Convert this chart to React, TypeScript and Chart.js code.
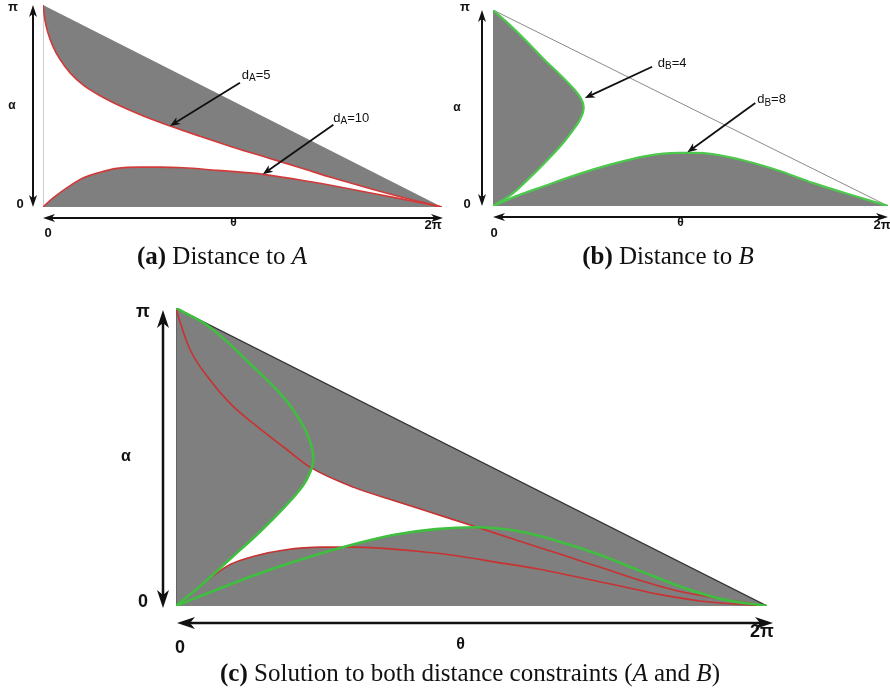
import React, { useEffect, useRef } from "react";
import { Chart, registerables } from "chart.js";

Chart.register(...registerables);

type Pt = [number, number];

// ---- axes (θ horizontal, α vertical) ----
const THETA_MAX = 6.28;
const ALPHA_MAX = 3.14;
const X_TICKS = [0, 6.28];
const X_TICK_LABELS = ["0", "2π"];
const Y_TICKS = [0, 3.14];
const Y_TICK_LABELS = ["0", "π"];
const X_TITLE = "θ";
const Y_TITLE = "α";

// triangle edges of the admissible domain
const hypotenuse: Pt[] = [[0, 3.14], [6.28, 0]];
const leftEdge: Pt[] = [[0, 0], [0, 3.14]];

// ---- (a) distance to A : [θ, α] ----
const aDistA5: Pt[] = [
  [0, 3.14], [0.03, 2.91], [0.08, 2.7], [0.16, 2.49], [0.27, 2.29], [0.43, 2.08],
  [0.63, 1.9], [0.9, 1.73], [1.26, 1.55], [1.57, 1.42], [2.0, 1.26], [2.47, 1.1],
  [2.99, 0.93], [3.52, 0.77], [4.05, 0.61], [4.57, 0.45], [5.1, 0.3], [5.62, 0.16], [6.28, 0],
];
const aDistA10: Pt[] = [
  [0, 0], [0.16, 0.14], [0.38, 0.3], [0.63, 0.45], [0.9, 0.54], [1.16, 0.6],
  [1.53, 0.62], [1.84, 0.62], [2.21, 0.61], [2.74, 0.57], [3.26, 0.53], [3.52, 0.5],
  [4.05, 0.42], [4.57, 0.33], [5.1, 0.23], [5.62, 0.13], [6.28, 0],
];

// ---- (b) distance to B ----
const bDistB4: Pt[] = [
  [0, 3.14], [0.3, 2.87], [0.56, 2.61], [0.82, 2.34], [1.09, 2.08], [1.29, 1.87],
  [1.4, 1.72], [1.44, 1.6], [1.43, 1.5], [1.38, 1.38], [1.29, 1.24], [1.09, 0.98],
  [0.82, 0.69], [0.56, 0.43], [0.3, 0.19], [0, 0],
];
const bDistB8: Pt[] = [
  [0, 0], [0.3, 0.13], [0.82, 0.32], [1.36, 0.51], [1.89, 0.67], [2.43, 0.8],
  [2.95, 0.85], [3.22, 0.85], [3.49, 0.83], [4.02, 0.72], [4.56, 0.56], [5.08, 0.37],
  [5.62, 0.2], [6.28, 0],
];

// ---- (c) both constraints ----
const cDistA5: Pt[] = [
  [0, 3.14], [0.04, 3.0], [0.15, 2.7], [0.37, 2.37], [0.58, 2.13], [0.85, 1.9],
  [1.15, 1.67], [1.43, 1.46], [1.89, 1.25], [2.32, 1.11], [2.76, 0.97], [3.2, 0.83],
  [3.63, 0.69], [4.07, 0.55], [4.5, 0.41], [4.93, 0.27], [5.37, 0.15], [6.28, 0],
];
const cDistA10: Pt[] = [
  [0, 0], [0.15, 0.12], [0.37, 0.3], [0.58, 0.44], [0.85, 0.53], [1.15, 0.59],
  [1.55, 0.62], [1.85, 0.62], [2.16, 0.61], [2.54, 0.58], [2.98, 0.53], [3.41, 0.46],
  [3.85, 0.39], [4.29, 0.3], [4.72, 0.21], [5.15, 0.12], [5.59, 0.05], [6.28, 0],
];
const cDistB4: Pt[] = [
  [0, 3.14], [0.37, 2.93], [0.8, 2.54], [1.15, 2.19], [1.35, 1.9], [1.44, 1.68],
  [1.46, 1.54], [1.43, 1.42], [1.35, 1.27], [1.15, 1.04], [0.89, 0.78], [0.58, 0.5],
  [0.28, 0.23], [0, 0],
];
const cDistB8: Pt[] = [
  [0, 0], [0.58, 0.23], [1.02, 0.39], [1.46, 0.53], [1.89, 0.65], [2.32, 0.75],
  [2.76, 0.81], [3.2, 0.83], [3.63, 0.79], [4.07, 0.68], [4.5, 0.54], [4.93, 0.37],
  [5.37, 0.2], [5.81, 0.07], [6.28, 0],
];

// ---- annotations: label anchor, arrow tail, arrow head (data coords) ----
type Note = { name: string; sub: string; value: string; label: Pt; tail: Pt; head: Pt };
const aNotes: Note[] = [
  { name: "d", sub: "A", value: "=5", label: [3.13, 2.05], tail: [3.1, 1.93], head: [2.0, 1.26] },
  { name: "d", sub: "A", value: "=10", label: [4.57, 1.38], tail: [4.57, 1.28], head: [3.46, 0.51] },
];
const bNotes: Note[] = [
  { name: "d", sub: "B", value: "=4", label: [2.62, 2.29], tail: [2.53, 2.23], head: [1.46, 1.73] },
  { name: "d", sub: "B", value: "=8", label: [4.2, 1.7], tail: [4.17, 1.65], head: [3.09, 0.86] },
];

const GRAY = "#7f7f7f";
const RED_A = "#d23a3a";
const GREEN_B = "#4cc84c";
const RED_C = "#c83232";
const GREEN_C = "#3fbf3f";
const SANS = '"Liberation Sans", Arial, sans-serif';

type ArrowStyle = { w: number; len: number; half: number };
type PanelCfg = {
  vArrowDx: number; vArrowEnds: [number, number];
  hArrowDy: number; hArrowEnds: [number, number];
  axisArrow: ArrowStyle;
  tickSize: number; titleSize: number;
  yTickDx: number[]; yTickDy: number[];
  xTickDx: number[]; xTickDy: number[];
  yTitleDx: number; xTitleDx: number; xTitleDy: number;
  noteSize: number; noteSub: number;
};

function head(ctx: CanvasRenderingContext2D, x: number, y: number, ang: number, s: ArrowStyle) {
  ctx.save();
  ctx.translate(x, y);
  ctx.rotate(ang);
  ctx.beginPath();
  ctx.moveTo(0, 0);
  ctx.lineTo(-s.len, -s.half);
  ctx.lineTo(-s.len * 0.72, 0);
  ctx.lineTo(-s.len, s.half);
  ctx.closePath();
  ctx.fill();
  ctx.restore();
}

function arrow(ctx: CanvasRenderingContext2D, x1: number, y1: number, x2: number, y2: number, s: ArrowStyle, both: boolean) {
  const ang = Math.atan2(y2 - y1, x2 - x1);
  const c = Math.cos(ang), d = Math.sin(ang);
  const back = s.len * 0.7;
  ctx.lineWidth = s.w;
  ctx.beginPath();
  ctx.moveTo(both ? x1 + c * back : x1, both ? y1 + d * back : y1);
  ctx.lineTo(x2 - c * back, y2 - d * back);
  ctx.stroke();
  head(ctx, x2, y2, ang, s);
  if (both) head(ctx, x1, y1, ang + Math.PI, s);
}

function decor(cfg: PanelCfg, notes: Note[]) {
  return {
    id: "decor",
    afterDraw(chart: any) {
      const { ctx, chartArea: a, scales } = chart;
      const xs = scales.x, ys = scales.y;
      ctx.save();
      ctx.fillStyle = "#111";
      ctx.strokeStyle = "#111";
      const vx = a.left + cfg.vArrowDx;
      arrow(ctx, vx, ys.getPixelForValue(Y_TICKS[0]) + cfg.vArrowEnds[0], vx,
        ys.getPixelForValue(Y_TICKS[1]) + cfg.vArrowEnds[1], cfg.axisArrow, true);
      const hy = a.bottom + cfg.hArrowDy;
      arrow(ctx, xs.getPixelForValue(X_TICKS[0]) + cfg.hArrowEnds[0], hy,
        xs.getPixelForValue(X_TICKS[1]) + cfg.hArrowEnds[1], hy, cfg.axisArrow, true);

      ctx.textAlign = "center";
      ctx.textBaseline = "middle";
      ctx.font = `bold ${cfg.tickSize}px ${SANS}`;
      Y_TICKS.forEach((v, i) =>
        ctx.fillText(Y_TICK_LABELS[i], a.left + cfg.yTickDx[i], ys.getPixelForValue(v) + cfg.yTickDy[i]));
      X_TICKS.forEach((v, i) =>
        ctx.fillText(X_TICK_LABELS[i], xs.getPixelForValue(v) + cfg.xTickDx[i], a.bottom + cfg.xTickDy[i]));
      ctx.font = `bold ${cfg.titleSize}px ${SANS}`;
      ctx.fillText(Y_TITLE, a.left + cfg.yTitleDx, (a.top + a.bottom) / 2);
      ctx.fillText(X_TITLE, (a.left + a.right) / 2 + cfg.xTitleDx, a.bottom + cfg.xTitleDy);

      const noteArrow: ArrowStyle = { w: 1.8, len: 10, half: 4 };
      for (const n of notes) {
        arrow(ctx, xs.getPixelForValue(n.tail[0]), ys.getPixelForValue(n.tail[1]),
          xs.getPixelForValue(n.head[0]), ys.getPixelForValue(n.head[1]), noteArrow, false);
        ctx.textAlign = "left";
        let lx = xs.getPixelForValue(n.label[0]);
        const ly = ys.getPixelForValue(n.label[1]);
        ctx.font = `${cfg.noteSize}px ${SANS}`;
        ctx.fillText(n.name, lx, ly);
        lx += ctx.measureText(n.name).width;
        ctx.font = `${cfg.noteSub}px ${SANS}`;
        ctx.fillText(n.sub, lx, ly + 3);
        lx += ctx.measureText(n.sub).width;
        ctx.font = `${cfg.noteSize}px ${SANS}`;
        ctx.fillText(n.value, lx, ly);
      }
      ctx.restore();
    },
  };
}

function curve(data: Pt[], color: string, width: number, filled: boolean, byTheta = true) {
  return {
    data: data.map(([x, y]) => ({ x, y })),
    borderColor: color,
    borderWidth: width,
    backgroundColor: GRAY,
    fill: filled ? "shape" : false,
    pointRadius: 0,
    cubicInterpolationMode: byTheta ? "monotone" : "default",
    tension: byTheta ? 0 : 0.4,
  };
}

type PanelProps = {
  left: number; top: number; width: number; height: number;
  padding: { left: number; top: number; right: number; bottom: number };
  datasets: any[]; cfg: PanelCfg; notes: Note[];
};

function Panel({ left, top, width, height, padding, datasets, cfg, notes }: PanelProps) {
  const ref = useRef<HTMLCanvasElement>(null);
  useEffect(() => {
    const chart = new Chart(ref.current as HTMLCanvasElement, {
      type: "line",
      data: { datasets },
      options: {
        responsive: false,
        animation: false,
        events: [],
        layout: { padding },
        scales: {
          x: { type: "linear", min: 0, max: THETA_MAX, display: false },
          y: { type: "linear", min: 0, max: ALPHA_MAX, display: false },
        },
        plugins: {
          legend: { display: false },
          tooltip: { enabled: false },
          filler: { drawTime: "beforeDatasetsDraw" },
        } as any,
      },
      plugins: [decor(cfg, notes)],
    } as any);
    return () => chart.destroy();
  }, []);
  return (
    <canvas ref={ref} width={width} height={height}
      style={{ position: "absolute", left, top, width, height, display: "block" }} />
  );
}

const smallCfg = (o: Partial<PanelCfg>): PanelCfg => ({
  vArrowDx: -10, vArrowEnds: [0, 0], hArrowDy: 11, hArrowEnds: [0, 1],
  axisArrow: { w: 2, len: 12, half: 4 }, tickSize: 13, titleSize: 12,
  yTickDx: [-23, -30], yTickDy: [-3, 2], xTickDx: [5, -9], xTickDy: [26, 18],
  yTitleDx: -31, xTitleDx: -9, xTitleDy: 16, noteSize: 13, noteSub: 10, ...o,
});

const cfgA = smallCfg({});
const cfgB = smallCfg({
  vArrowDx: -11, hArrowEnds: [0, 0], yTickDx: [-26, -28], yTickDy: [-2, -3],
  xTickDx: [1, -6], xTickDy: [27, 19], yTitleDx: -36, xTitleDx: -10, xTitleDy: 17,
});
const cfgC: PanelCfg = {
  vArrowDx: -13, vArrowEnds: [2, 2], hArrowDy: 17, hArrowEnds: [1, 6],
  axisArrow: { w: 2.5, len: 18, half: 6 }, tickSize: 18, titleSize: 16,
  yTickDx: [-33, -33], yTickDy: [-4, 4], xTickDx: [4, -5], xTickDy: [42, 26],
  yTitleDx: -50, xTitleDx: -11, xTitleDy: 39, noteSize: 13, noteSub: 10,
};

const captionStyle = (cx: number, top: number): React.CSSProperties => ({
  position: "absolute", left: cx - 300, top, width: 600, textAlign: "center",
  fontFamily: '"Liberation Serif", "Times New Roman", serif', fontSize: 25, color: "#111",
  lineHeight: "28px", whiteSpace: "nowrap",
});

export default function App() {
  return (
    <div style={{ position: "absolute", left: 0, top: 0, width: 890, height: 694, background: "#fff" }}>
      <Panel left={0} top={0} width={445} height={245}
        padding={{ left: 43, top: 5, right: 3, bottom: 38 }}
        cfg={cfgA} notes={aNotes}
        datasets={[
          curve(aDistA5, RED_A, 1.6, true),
          curve(aDistA10, RED_A, 1.6, true),
          curve(leftEdge, "#9a9a9a", 1, false),
        ]} />
      <Panel left={445} top={0} width={445} height={245}
        padding={{ left: 48, top: 10, right: 2, bottom: 39 }}
        cfg={cfgB} notes={bNotes}
        datasets={[
          curve(bDistB4, GREEN_B, 2.2, true, false),
          curve(bDistB8, GREEN_B, 2.2, true),
          curve(hypotenuse, "#8a8a8a", 1, false),
        ]} />
      <Panel left={100} top={290} width={700} height={375}
        padding={{ left: 76, top: 18, right: 33, bottom: 59 }}
        cfg={cfgC} notes={[]}
        datasets={[
          curve(cDistB4, GREEN_C, 2.6, true, false),
          curve(cDistB8, GREEN_C, 2.6, true),
          curve(cDistA5, RED_C, 1.6, true),
          curve(cDistA10, RED_C, 1.6, true),
          curve(hypotenuse, "#333", 1.2, false),
          curve(leftEdge, "#555", 1.2, false),
        ]} />
      <div style={captionStyle(222, 242)}><b>(a)</b> Distance to <i>A</i></div>
      <div style={captionStyle(668, 242)}><b>(b)</b> Distance to <i>B</i></div>
      <div style={captionStyle(470, 659)}>
        <b>(c)</b> Solution to both distance constraints (<i>A</i> and <i>B</i>)
      </div>
    </div>
  );
}
